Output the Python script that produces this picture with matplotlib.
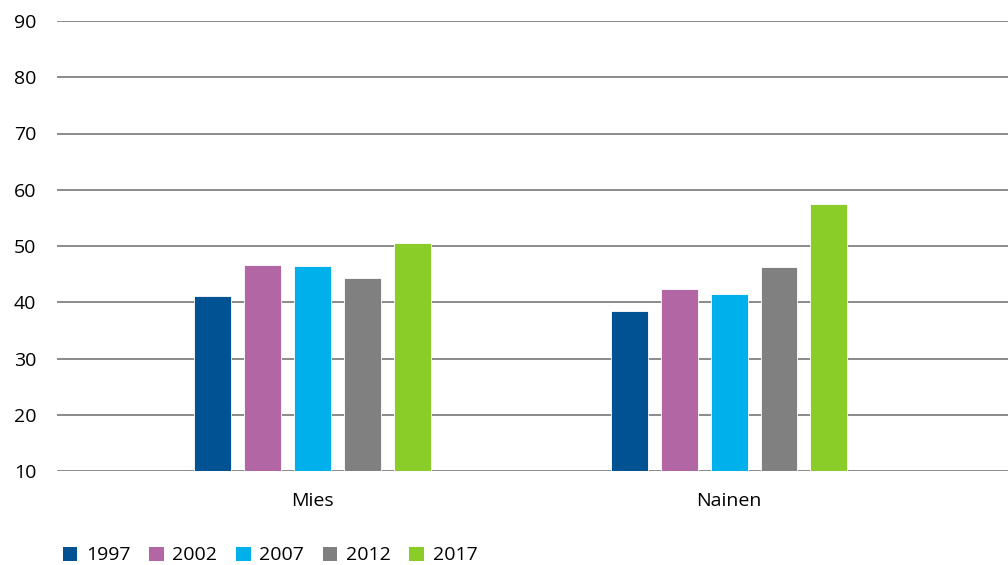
import numpy as np
import matplotlib

matplotlib.use("Agg")
import matplotlib.pyplot as plt
from matplotlib.patches import Patch

categories = ["Mies", "Nainen"]
years = ["1997", "2002", "2007", "2012", "2017"]
values = {
    "1997": [41.2, 38.5],
    "2002": [46.6, 42.4],
    "2007": [46.4, 41.5],
    "2012": [44.4, 46.3],
    "2017": [50.6, 57.5],
}
colors = ["#005293", "#b366a4", "#00b0ea", "#808080", "#8acd28"]

plt.rcParams["font.family"] = ["Open Sans", "DejaVu Sans"]

fig = plt.figure(figsize=(10.08, 5.65), dpi=100)
ax = fig.add_axes([57 / 1008, 1 - 471 / 565, 951 / 1008, 450 / 565])

x = np.arange(len(categories))
step = 0.1195
width = 0.0885
for i, (year, color) in enumerate(zip(years, colors)):
    ax.bar(x + (i - 2) * step, np.array(values[year]) - 10, bottom=10,
           width=width, color=color, edgecolor="white", linewidth=0.6, zorder=3)

ax.set_ylim(10, 90)
ax.set_yticks(range(10, 91, 10))
ax.set_xlim(-0.613, 1.669)
ax.set_xticks(x)
ax.set_xticklabels(categories)
ax.grid(axis="y", color="#8a8a8a", linewidth=1.4, zorder=0)
for s in ax.spines.values():
    s.set_visible(False)
ax.tick_params(axis="both", length=0, labelsize=14, colors="black")
ax.tick_params(axis="x", pad=15)
ax.tick_params(axis="y", pad=15)

handles = [Patch(facecolor=c, label=y) for y, c in zip(years, colors)]
fig.legend(handles=handles, loc="lower left", bbox_to_anchor=(0.045, -0.03),
           ncol=5, frameon=False, fontsize=14, handlelength=0.75, handleheight=0.75,
           handletextpad=0.45, columnspacing=0.95)

fig.savefig("out.png", dpi=100)
